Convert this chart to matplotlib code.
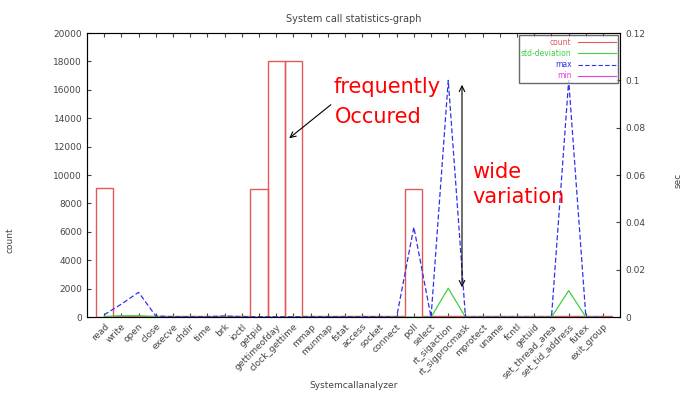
# system call statistics graph (gnuplot style) - count bars + time lines
import matplotlib
matplotlib.use('Agg')
import matplotlib.pyplot as plt
from matplotlib.lines import Line2D
import numpy as np

# 시스템 콜 이름
syscalls = ['read', 'write', 'open', 'close', 'execve', 'chdir', 'time', 'brk',
            'ioctl', 'getpid', 'gettimeofday', 'clock_gettime', 'mmap', 'munmap',
            'fstat', 'access', 'socket', 'connect', 'poll', 'select',
            'rt_sigaction', 'rt_sigprocmask', 'mprotect', 'uname', 'fcntl',
            'getuid', 'set_thread_area', 'set_tid_address', 'futex', 'exit_group']

# 호출 횟수 (left axis)
counts = [9100, 60, 60, 60, 60, 60, 60, 60, 60, 9000, 18000, 18000, 60, 60, 60,
          60, 60, 60, 9000, 60, 60, 60, 60, 60, 60, 60, 60, 60, 60, 60]

# 시간 통계 (right axis, sec)
std_dev = [0.0003, 0.0006, 0.0006, 0.0002, 0, 0, 0, 0, 0, 0, 0, 0, 0, 0, 0,
           0, 0, 0, 0, 0, 0.0122, 0, 0, 0, 0, 0, 0, 0.0112, 0, 0]
max_t = [0.001, 0.0055, 0.0105, 0.0005, 0.0002, 0.0002, 0.0002, 0.0005, 0.0002,
         0.0002, 0.0002, 0.0002, 0.0002, 0.0002, 0.0002, 0.0002, 0.0002, 0,
         0.038, 0, 0.1, 0, 0, 0, 0, 0, 0, 0.1, 0, 0]
min_t = [0.0002] * 30

legend_labels = ['count', 'std-deviation', 'max', 'min']

x = np.arange(len(syscalls))
txt = '#444444'
H = 393  # figure height in px (annotation 좌표 변환용)

fig = plt.figure(figsize=(6.9, 3.93), dpi=100)
ax = fig.add_axes([0.126, 0.193, 0.773, 0.723])

# count -> unfilled boxes
ax.bar(x, counts, width=1.0, fill=False, edgecolor='#e05a5a', linewidth=1.0, zorder=2)
ax.set_xlim(-1, 30)
ax.set_ylim(0, 20000)
ax.set_yticks(np.arange(0, 20001, 2000))
ax.set_xticks(x)
ax.set_xticklabels(syscalls, rotation=45, ha='right', rotation_mode='anchor')
ax.tick_params(direction='in', labelsize=6.5, colors=txt, length=3)
ax.tick_params(axis='x', top=True)
ax.set_ylabel('count', fontsize=6.5, color=txt)
ax.yaxis.set_label_coords(-0.135, 0.27)
ax.set_xlabel('Systemcallanalyzer', fontsize=6.5, color=txt, labelpad=1)
ax.set_title('System call statistics-graph', fontsize=7, color=txt, pad=8)
for s in ax.spines.values():
    s.set_color('#666666')

# 시간 통계 -> right axis
ax2 = ax.twinx()
ax2.set_ylim(0, 0.12)
ax2.set_yticks([0, 0.02, 0.04, 0.06, 0.08, 0.1, 0.12])
ax2.set_yticklabels(['0', '0.02', '0.04', '0.06', '0.08', '0.1', '0.12'])
ax2.tick_params(direction='in', labelsize=6.5, colors=txt, length=3)
ax2.set_ylabel('sec', fontsize=6.5, color=txt)
ax2.yaxis.set_label_coords(1.1, 0.48)
ax2.plot(x, std_dev, color='#40d040', lw=0.9)
ax2.plot(x, max_t, color='#3030f0', lw=0.9, ls=(0, (4, 2)))
ax2.plot(x, min_t, color='#e040e0', lw=0.9)
ax2.set_xlim(-1, 30)

# legend (text 먼저, gnuplot 처럼)
handles = [Line2D([], [], color='#e05a5a', lw=0.8),
           Line2D([], [], color='#40d040', lw=0.8),
           Line2D([], [], color='#3030f0', lw=0.8, ls=(0, (4, 2))),
           Line2D([], [], color='#e040e0', lw=0.8)]
leg = ax2.legend(handles, legend_labels, loc='upper right', fontsize=5.5,
                 markerfirst=False, frameon=True, fancybox=False,
                 borderaxespad=0.3, handlelength=5, labelspacing=0.3,
                 borderpad=0.3)
leg.get_frame().set_edgecolor('#444444')
leg.get_frame().set_linewidth(1.0)
for t, h in zip(leg.get_texts(), handles):
    t.set_color(h.get_color())

# 주석
ax2.annotate('', xy=(287, H - 140), xycoords='figure pixels', xytext=(333, H - 103),
             textcoords='figure pixels',
             arrowprops=dict(arrowstyle='->', color='black', lw=0.8))
fig.text(333 / 690, 1 - 87 / H, 'frequently', color='red', fontsize=15, va='center')
fig.text(335 / 690, 1 - 117 / H, 'Occured', color='red', fontsize=15, va='center')

ax2.annotate('', xy=(462, H - 290), xycoords='figure pixels',
             xytext=(462, H - 82), textcoords='figure pixels',
             arrowprops=dict(arrowstyle='<->', color='black', lw=0.8))
fig.text(472 / 690, 1 - 172 / H, 'wide', color='red', fontsize=15, va='center')
fig.text(472 / 690, 1 - 197 / H, 'variation', color='red', fontsize=15, va='center')

plt.savefig('out.png', dpi=100)
